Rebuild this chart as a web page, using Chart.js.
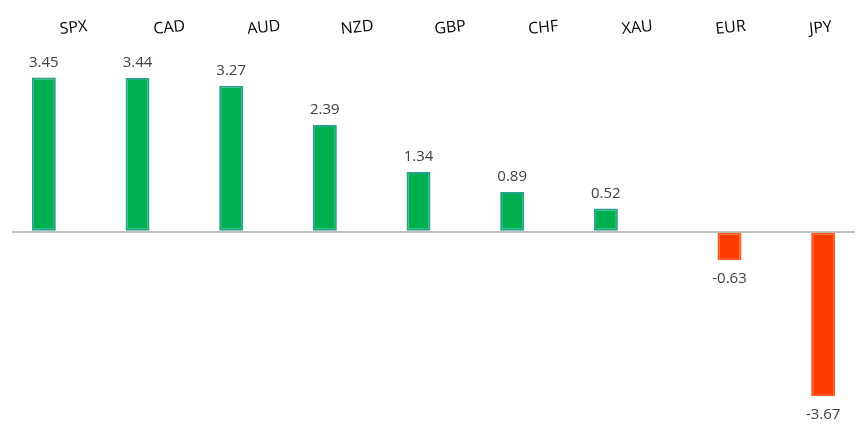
<!DOCTYPE html>
<html lang="en">
<head>
  <meta charset="UTF-8">
  <title>Currency performance</title>
  <script src="https://cdn.jsdelivr.net/npm/chart.js"></script>
  <style>
    body { margin: 0; background: #fff; }
    .box { width: 859px; height: 443px; }
  </style>
</head>
<body>
  <div class="box"><canvas id="myChart"></canvas></div>
  <script>
    const categories = ['SPX', 'CAD', 'AUD', 'NZD', 'GBP', 'CHF', 'XAU', 'EUR', 'JPY'];
    const values = [3.45, 3.44, 3.27, 2.39, 1.34, 0.89, 0.52, -0.63, -3.67];

    const gains = values.map(v => v >= 0 ? v : null);
    const losses = values.map(v => v < 0 ? v : null);

    // prints the number above (or under) each bar
    const valueLabels = {
      id: 'valueLabels',
      afterDatasetsDraw(chart) {
        const ctx = chart.ctx;
        ctx.save();
        ctx.font = '15px "Open Sans"';
        ctx.fillStyle = '#404040';
        ctx.textAlign = 'center';
        ctx.textBaseline = 'middle';
        chart.data.datasets.forEach((ds, i) => {
          chart.getDatasetMeta(i).data.forEach((bar, j) => {
            const v = ds.data[j];
            if (v === null) return;
            const y = v >= 0 ? bar.y - 15 : bar.y + 19;
            ctx.fillText(v.toFixed(2), bar.x, y);
          });
        });
        ctx.restore();
      }
    };

    const ctx = document.getElementById('myChart').getContext('2d');
    const myChart = new Chart(ctx, {
      type: 'bar',
      data: {
        labels: categories,
        datasets: [{
          label: 'up',
          data: gains,
          backgroundColor: '#00b050',
          borderColor: '#26a38c',
          borderWidth: 2,
          borderSkipped: false
        }, {
          label: 'down',
          data: losses,
          backgroundColor: '#ff3c00',
          borderColor: '#ff5a1e',
          borderWidth: 2,
          borderSkipped: false
        }]
      },
      options: {
        responsive: true,
        maintainAspectRatio: false,
        animation: false,
        categoryPercentage: 0.64,
        barPercentage: 0.8,
        layout: { padding: { left: 12, right: 4, top: 0, bottom: 10 } },
        scales: {
          x: {
            position: 'top',
            grid: { display: false },
            border: { display: false },
            afterFit: s => { s.height = 53; },
            ticks: {
              color: '#000',
              minRotation: 6,
              maxRotation: 6,
              padding: 6,
              labelOffset: 3,
              font: { family: '"Open Sans"', size: 16 }
            }
          },
          y: {
            min: -4.5,
            max: 4,
            border: { display: false },
            grid: {
              drawTicks: false,
              lineWidth: 2,
              color: c => c.tick.value === 0 ? '#bfbfbf' : 'rgba(0,0,0,0)'
            },
            ticks: { display: false, stepSize: 0.5 }
          }
        },
        plugins: {
          legend: { display: false },
          tooltip: { enabled: false }
        }
      },
      plugins: [valueLabels]
    });
  </script>
</body>
</html>
